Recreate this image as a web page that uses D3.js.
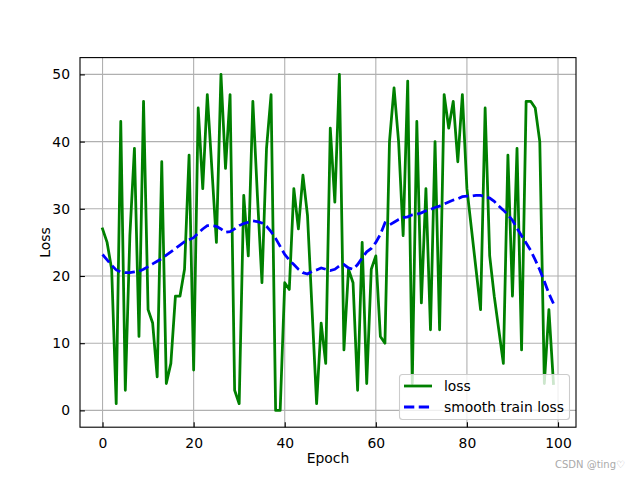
<!DOCTYPE html>
<html>
<head>
<meta charset="utf-8">
<script src="https://cdn.jsdelivr.net/npm/d3@7"></script>
<style>
  html, body { margin: 0; padding: 0; background: #fff; }
  svg { display: block; }
  text { font-family: "DejaVu Sans", sans-serif; }
</style>
</head>
<body>
<script>
// ---- data ----
const epochs = d3.range(0, 100);
const lossValues = [
  27, 25, 21, 1, 43, 3, 26, 39, 11, 46,
  15, 13, 5, 37, 4, 7, 17, 17, 21, 38,
  6, 45, 33, 47, 36, 25, 50, 36, 47, 3,
  1, 32, 23, 46, 32, 19, 39, 47, 0, 0,
  19, 18, 33, 27, 35, 29, 15, 1, 13, 7,
  42, 31, 50, 9, 21, 19, 3, 25, 4, 21,
  23, 11, 10, 40, 48, 40, 26, 49, 4, 43,
  16, 33, 12, 40, 12, 47, 42, 46, 37, 47,
  33, 27, 21, 15, 45, 23, 17, 12, 7, 38,
  17, 39, 9, 46, 46, 45, 40, 4, 15, 4
];
const smoothValues = [
  23.2, 22.4, 21.6, 20.9, 20.6, 20.5, 20.5, 20.6, 20.7, 21.0,
  21.4, 21.8, 22.2, 22.6, 23.1, 23.6, 24.1, 24.6, 25.1, 25.4,
  25.7, 26.4, 27.0, 27.5, 27.5, 27.4, 27.0, 26.5, 26.6, 27.0,
  27.5, 27.8, 28.0, 28.2, 28.1, 27.9, 27.4, 26.6, 25.6, 24.4,
  23.2, 22.4, 21.7, 21.0, 20.5, 20.3, 20.7, 20.9, 21.2, 21.0,
  20.8, 21.0, 21.5, 21.7, 21.2, 21.0, 21.7, 22.7, 23.6, 24.1,
  25.0, 26.2, 27.9, 27.6, 28.0, 28.4, 28.7, 28.8, 29.1, 29.2,
  29.4, 29.7, 29.9, 30.2, 30.4, 30.7, 31.0, 31.3, 31.5, 31.8,
  31.9, 31.9, 32.0, 32.0, 31.8, 31.6, 31.1, 30.4, 29.8, 29.1,
  28.3, 27.1, 26.0, 24.9, 23.8, 22.4, 20.9, 19.2, 17.4, 15.9
];
const xTicks = [0, 20, 40, 60, 80, 100];
const yTicks = [0, 10, 20, 30, 40, 50];
const seriesNames = ["loss", "smooth train loss"];
const xLabel = "Epoch";
const yLabel = "Loss";
const watermark = "CSDN @ting\u2661";

// ---- layout ----
const W = 640, H = 480;
const mLeft = 80, mRight = 576, mTop = 57.6, mBottom = 427.2;

const svg = d3.select("body").append("svg").attr("width", W).attr("height", H);

const x = d3.scaleLinear().domain([-4.95, 103.95]).range([mLeft, mRight]);
const y = d3.scaleLinear().domain([-2.5, 52.5]).range([mBottom, mTop]);

// grid
const grid = svg.append("g");
grid.selectAll("line.gx").data(xTicks).join("line").attr("class", "gx")
  .attr("x1", d => x(d)).attr("x2", d => x(d))
  .attr("y1", mTop).attr("y2", mBottom)
  .attr("stroke", "#b0b0b0").attr("stroke-width", 1.1);
grid.selectAll("line.gy").data(yTicks).join("line").attr("class", "gy")
  .attr("y1", d => y(d)).attr("y2", d => y(d))
  .attr("x1", mLeft).attr("x2", mRight)
  .attr("stroke", "#b0b0b0").attr("stroke-width", 1.1);

// lines
svg.append("clipPath").attr("id", "clip").append("rect")
  .attr("x", mLeft).attr("y", mTop).attr("width", mRight - mLeft).attr("height", mBottom - mTop);

const lineGen = d3.line().x((d, i) => x(epochs[i])).y(d => y(d));
svg.append("path").datum(lossValues)
  .attr("clip-path", "url(#clip)")
  .attr("d", lineGen)
  .attr("fill", "none").attr("stroke", "#008000").attr("stroke-width", 2.78)
  .attr("stroke-linejoin", "round").attr("stroke-linecap", "square");

svg.append("path").datum(smoothValues)
  .attr("clip-path", "url(#clip)")
  .attr("d", lineGen)
  .attr("fill", "none").attr("stroke", "#0000ff").attr("stroke-width", 2.78)
  .attr("stroke-dasharray", "10.3,4.45");

// axes with inward ticks
const xAxis = d3.axisBottom(x).tickValues(xTicks).tickSizeInner(-4.9).tickSizeOuter(0).tickPadding(11);
const yAxis = d3.axisLeft(y).tickValues(yTicks).tickSizeInner(-4.9).tickSizeOuter(0).tickPadding(10);

const gx = svg.append("g").attr("transform", `translate(0,${mBottom})`).call(xAxis);
const gy = svg.append("g").attr("transform", `translate(${mLeft},0)`).call(yAxis);
[gx, gy].forEach(g => {
  g.select(".domain").remove();
  g.selectAll(".tick line").attr("stroke", "#000").attr("stroke-width", 1.1);
  g.selectAll(".tick text").attr("font-size", 13.9).attr("fill", "#000")
    .attr("font-family", "DejaVu Sans, sans-serif");
});

// spines
svg.append("rect").attr("x", mLeft).attr("y", mTop)
  .attr("width", mRight - mLeft).attr("height", mBottom - mTop)
  .attr("fill", "none").attr("stroke", "#000").attr("stroke-width", 1.1);

// axis labels
svg.append("text").attr("x", (mLeft + mRight) / 2).attr("y", 463)
  .attr("text-anchor", "middle").attr("font-size", 13.9).text(xLabel);
svg.append("text").attr("transform", `translate(50,${(mTop + mBottom) / 2}) rotate(-90)`)
  .attr("text-anchor", "middle").attr("font-size", 13.9).text(yLabel);

// legend
const lg = svg.append("g");
lg.append("rect").attr("x", 399.5).attr("y", 374.5).attr("width", 170).attr("height", 45)
  .attr("rx", 3).attr("ry", 3)
  .attr("fill", "#fff").attr("fill-opacity", 0.8)
  .attr("stroke", "#cccccc").attr("stroke-width", 1.1);
const legendItems = [
  { name: seriesNames[0], color: "#008000", dash: null, cy: 386 },
  { name: seriesNames[1], color: "#0000ff", dash: "10.3,4.45", cy: 407 }
];
legendItems.forEach(it => {
  lg.append("line").attr("x1", 404).attr("x2", 432).attr("y1", it.cy).attr("y2", it.cy)
    .attr("stroke", it.color).attr("stroke-width", 2.78)
    .attr("stroke-dasharray", it.dash);
  lg.append("text").attr("x", 444).attr("y", it.cy).attr("dy", "0.35em")
    .attr("font-size", 13.9).text(it.name);
});

// watermark
svg.append("text").attr("x", 625).attr("y", 468).attr("text-anchor", "end")
  .attr("font-size", 10).attr("fill", "#aaaaaa").text(watermark);
</script>
</body>
</html>
